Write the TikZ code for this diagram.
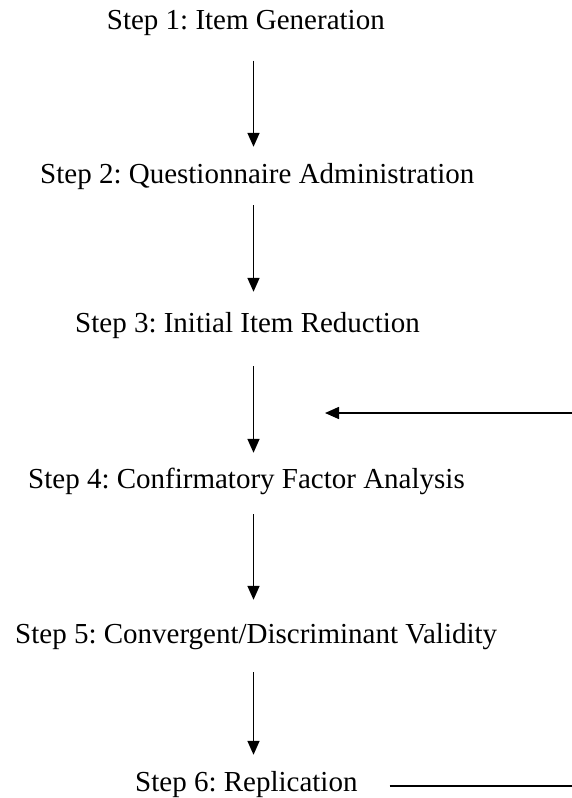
\documentclass[tikz,border=0pt]{standalone}
\usepackage{fontspec}
\setmainfont{Liberation Serif}
\usetikzlibrary{arrows.meta}
\frenchspacing
\begin{document}
\begin{tikzpicture}[x=1pt,y=1pt,
  stepnode/.style={anchor=base west,inner sep=0pt,text height=20pt,text depth=6pt,
    font=\fontsize{29}{34}\selectfont\frenchspacing},
  arr/.style={line width=1.5pt,-{Triangle[length=14pt,width=12pt]}},
  plain/.style={line width=1.5pt}]
\useasboundingbox (0,0) rectangle (572,-798);
\node[stepnode] (s1) at (106.7,-29.5) {Step 1: Item Generation};
\node[stepnode] (s2) at (40,-183) {Step 2: Questionnaire Administration};
\node[stepnode] (s3) at (75,-332) {Step 3: Initial Item Reduction};
\node[stepnode] (s4) at (28,-488) {Step 4: Confirmatory Factor Analysis};
\node[stepnode] (s5) at (15,-643) {Step 5: Convergent/Discriminant Validity};
\node[stepnode] (s6) at (135,-791) {Step 6: Replication};
\coordinate (col) at (253.5,0);
\draw[arr,shorten <=25pt,shorten >=16pt] (s1.south -| col) -- (s2.north -| col);
\draw[arr,shorten <=16pt,shorten >=20pt] (s2.south -| col) -- (s3.north -| col);
\draw[arr,shorten <=28pt,shorten >=15pt] (s3.south -| col) -- (s4.north -| col);
\draw[arr,shorten <=20pt,shorten >=23pt] (s4.south -| col) -- (s5.north -| col);
\draw[arr,shorten <=23pt,shorten >=16pt] (s5.south -| col) -- (s6.north -| col);
\coordinate (r1) at (572,-786);
\coordinate (r2) at (572,-413);
\coordinate (fb) at (325,-413);
\draw[plain] (s6.base east) ++(32,5) -- (r1);
\draw[arr] (r2) -- (fb);
\end{tikzpicture}
\end{document}
